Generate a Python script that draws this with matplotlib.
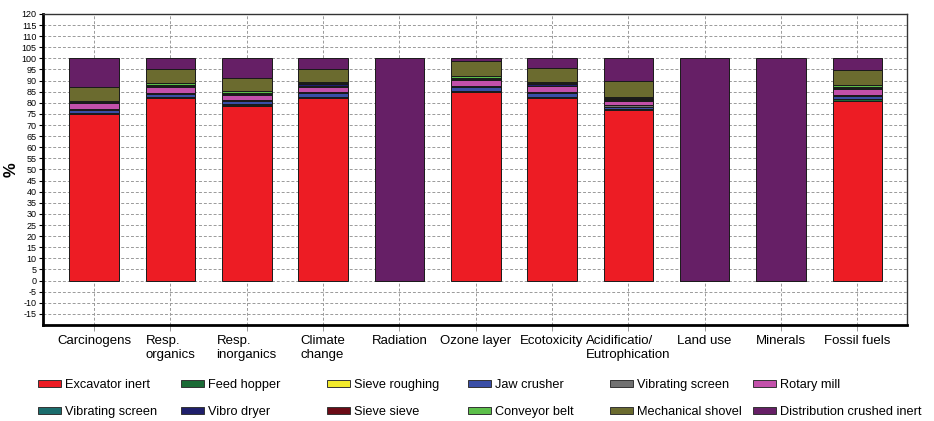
import numpy as np
import matplotlib
matplotlib.use("Agg")
import matplotlib.pyplot as plt
from matplotlib.patches import Patch

plt.rcParams['font.family'] = ['Liberation Sans', 'DejaVu Sans']

categories = ["Carcinogens", "Resp.\norganics", "Resp.\ninorganics", "Climate\nchange",
              "Radiation", "Ozone layer", "Ecotoxicity", "Acidificatio/\nEutrophication",
              "Land use", "Minerals", "Fossil fuels"]

# stack order, bottom to top
processes = ["Excavator inert", "Feed hopper", "Sieve roughing", "Jaw crusher",
             "Vibrating screen", "Rotary mill", "Vibrating screen", "Vibro dryer",
             "Sieve sieve", "Conveyor belt", "Mechanical shovel", "Distribution crushed inert"]

colors = ["#ed1c24", "#1b6b36", "#f2ea2c", "#3a4ea6", "#717171", "#c250aa",
          "#1b6d6d", "#1f1f6b", "#6b0b16", "#5cbf4a", "#6b6b2f", "#661f66"]

excavator_inert = [75.0, 82.0, 78.6, 82.0, 0, 85.0, 82.0, 76.8, 0, 0, 81.0]
feed_hopper = [0.3, 0.4, 0.2, 0.5, 0, 0.2, 0.5, 0.3, 0, 0, 0.5]
sieve_roughing = [0.1, 0.1, 0.5, 0.1, 0, 0.1, 0.1, 0.2, 0, 0, 0.1]
jaw_crusher = [1.4, 1.5, 1.6, 1.6, 0, 1.8, 1.7, 1.0, 0, 0, 1.5]
vibrating_screen = [0.5, 0.6, 0.5, 0.6, 0, 0.6, 0.5, 0.5, 0, 0, 0.6]
rotary_mill = [2.4, 2.6, 2.2, 2.5, 0, 2.5, 2.6, 2.0, 0, 0, 2.6]
vibrating_screen_2 = [0.3, 0.4, 0.4, 0.3, 0, 0.5, 0.3, 0.4, 0, 0, 0.4]
vibro_dryer = [0.3, 0.3, 0.5, 1.0, 0, 0.3, 0.9, 0.7, 0, 0, 0.4]
sieve_sieve = [0.1, 0.1, 0.1, 0.1, 0, 0.1, 0.1, 0.1, 0, 0, 0.1]
conveyor_belt = [0.6, 0.7, 0.6, 0.5, 0, 0.9, 0.5, 0.8, 0, 0, 0.7]
mechanical_shovel = [6.0, 6.5, 6.0, 6.0, 0, 6.8, 6.3, 6.8, 0, 0, 6.7]
distribution = [13.0, 4.8, 8.8, 4.8, 100, 1.2, 4.5, 10.4, 100, 100, 5.4]

series = [excavator_inert, feed_hopper, sieve_roughing, jaw_crusher, vibrating_screen,
          rotary_mill, vibrating_screen_2, vibro_dryer, sieve_sieve, conveyor_belt,
          mechanical_shovel, distribution]

yticks = list(range(-15, 121, 5))

fig = plt.figure(figsize=(9.34, 4.21), dpi=100)
ax = fig.add_axes([0.046, 0.228, 0.925, 0.739])

x = np.arange(len(categories))
bottom = np.zeros(len(categories))
for vals, col, name in zip(series, colors, processes):
    vals = np.array(vals, dtype=float)
    ax.bar(x, vals, 0.65, bottom=bottom, color=col, edgecolor="#1a1a1a",
           linewidth=0.7, label=name, zorder=3)
    bottom += vals

ax.set_xlim(-0.67, len(categories) - 0.35)
ax.set_ylim(-20, 120)
ax.set_yticks(yticks)
ax.set_yticklabels([str(t) for t in yticks], fontsize=6.5)
ax.set_xticks(x)
ax.set_xticklabels(categories, fontsize=9.5, va="top", multialignment="left")
ax.tick_params(axis="x", length=4, width=0.6, color="#888888", pad=3.5)
ax.tick_params(axis="y", length=3, width=0.8, pad=1.5)

ax.grid(True, linestyle=(0, (3, 2)), color="#9a9a9a", linewidth=0.7, zorder=0)
ax.set_axisbelow(True)

ax.spines["left"].set_linewidth(2)
ax.spines["bottom"].set_linewidth(2)
ax.spines["top"].set_linewidth(1)
ax.spines["right"].set_linewidth(1)
ax.spines["top"].set_color("#333333")
ax.spines["right"].set_color("#333333")

ax.set_ylabel("%", fontsize=12, fontweight="bold", labelpad=2)

# legend: six columns of two entries, laid out row by row
col_x = [38, 181, 327, 468, 610, 753]
for c in range(6):
    hs = []
    for r in range(2):
        i = r * 6 + c
        hs.append(Patch(facecolor=colors[i], edgecolor="#333333", linewidth=0.7,
                        label=processes[i]))
    fig.legend(handles=hs, loc="center left", bbox_to_anchor=(col_x[c] / 934, 1 - 398.5 / 421),
               frameon=False, fontsize=9.2, borderpad=0, borderaxespad=0,
               handlelength=1.8, handleheight=0.5, handletextpad=0.35, labelspacing=1.2)

fig.savefig("out.png", dpi=100)
